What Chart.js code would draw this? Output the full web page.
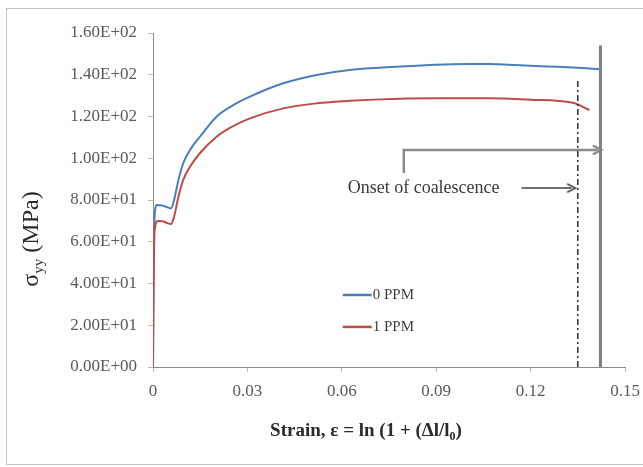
<!DOCTYPE html>
<html><head><meta charset="utf-8">
<script src="https://cdn.jsdelivr.net/npm/chart.js@4"></script>
<style>html,body{margin:0;padding:0;background:#fff}#wrap{width:643px;height:467px}</style>
</head><body><div id="wrap"><canvas id="c" width="643" height="467"></canvas></div>
<script>
// ---- data ----
const seriesNames = ['0 PPM', '1 PPM'];
const strain0 = [0, 0.0002, 0.0005, 0.0012, 0.003, 0.0045, 0.0057, 0.0067, 0.008, 0.0096, 0.012, 0.0149, 0.0202, 0.025, 0.0308, 0.0414, 0.052, 0.0625, 0.0784, 0.09, 0.1, 0.107, 0.115, 0.125, 0.135, 0.1422];
const stress0 = [0, 50, 72, 77.6, 77.4, 76.6, 76, 80, 89, 97.6, 104.5, 110.3, 119.9, 125, 129.5, 135.9, 139.9, 142.3, 143.9, 144.8, 145.1, 145.1, 144.7, 144, 143.3, 142.6];
const strain1 = [0, 0.0002, 0.0005, 0.0015, 0.003, 0.0045, 0.0057, 0.0067, 0.008, 0.0096, 0.012, 0.0149, 0.0202, 0.025, 0.0308, 0.0414, 0.052, 0.0625, 0.0784, 0.09, 0.107, 0.12, 0.1334, 0.1387];
const stress1 = [0, 40, 65, 70, 69.8, 69, 68.5, 72, 81, 89.6, 96.5, 102.4, 110.3, 115, 119.1, 123.9, 126.3, 127.5, 128.5, 128.7, 128.7, 128, 126.6, 123.1];
const xTicks = [0, 0.03, 0.06, 0.09, 0.12, 0.15];
const yTicks = [0, 20, 40, 60, 80, 100, 120, 140, 160];
const dashLineX = [0.1350, 0.1350];
const dashLineY = [0, 137.5];
const solidLineX = [0.1422, 0.1422];
const solidLineY = [0, 154];
const upperArrowX = [0.0797, 0.0797, 0.1413];
const upperArrowY = [92.9, 104, 104];
const lowerArrowX = [0.1171, 0.1330];
const lowerArrowY = [85.7, 85.7];
const annotationText = 'Onset of coalescence';
const annotationAt = [0.086, 85.7];
const xTitleParts = ['Strain, ε = ln (1 + (Δl/l', '0', ')'];
const yTitleParts = ['σ', 'yy', ' (MPa)'];

const pts = (xs, ys) => xs.map((x, i) => ({x: x, y: ys[i]}));

function chevron(color, w) {
  const c = document.createElement('canvas');
  c.width = 12; c.height = 12;
  const g = c.getContext('2d');
  g.strokeStyle = color; g.lineWidth = w; g.lineCap = 'round';
  g.beginPath(); g.moveTo(2, 2); g.lineTo(10, 6); g.lineTo(2, 10); g.stroke();
  return c;
}
const headGrey = chevron('#7f7f7f', 2);
const headDark = chevron('#404040', 1.5);

const SERIF = '"Liberation Serif", "Times New Roman", serif';

function fmtE(v) {
  const s = Number(v).toExponential(2).toUpperCase();
  return s.replace(/E([+-])(\d)$/, 'E$10$2');
}

const decor = {
  id: 'decor',
  beforeDraw(chart) {
    const g = chart.ctx;
    g.save();
    g.strokeStyle = '#c4c4c4'; g.lineWidth = 1;
    g.strokeRect(6.5, 8.5, 650, 456);
    g.restore();
  },
  afterDraw(chart) {
    const g = chart.ctx, xs = chart.scales.x, ys = chart.scales.y;
    g.save();
    // annotation text
    g.fillStyle = '#3a3a3a';
    g.font = '18px ' + SERIF;
    g.textAlign = 'center'; g.textBaseline = 'middle';
    g.fillText(annotationText, xs.getPixelForValue(annotationAt[0]), ys.getPixelForValue(annotationAt[1]));
    // legend
    const lx0 = xs.getPixelForValue(0.0603), lx1 = xs.getPixelForValue(0.0695);
    const ly = [ys.getPixelForValue(34.5), ys.getPixelForValue(19.2)];
    g.font = '15px ' + SERIF; g.textAlign = 'left';
    [0, 1].forEach(i => {
      const ds = chart.data.datasets[i];
      g.strokeStyle = ds.borderColor; g.lineWidth = 2.5;
      g.beginPath(); g.moveTo(lx0, ly[i]); g.lineTo(lx1, ly[i]); g.stroke();
      g.fillStyle = '#404040';
      g.fillText(ds.label, lx1 + 1, ly[i]);
    });
    // y title with subscript
    g.fillStyle = '#2a2a2a';
    g.translate(30, 239); g.rotate(-Math.PI / 2);
    const big = '24px ' + SERIF, small = '15px ' + SERIF;
    g.font = big; const w0 = g.measureText(yTitleParts[0]).width;
    g.font = small; const w1 = g.measureText(yTitleParts[1]).width;
    g.font = big; const w2 = g.measureText(yTitleParts[2]).width;
    let x = -(w0 + w1 + w2) / 2;
    g.textBaseline = 'alphabetic';
    g.font = big; g.fillText(yTitleParts[0], x, 8); x += w0;
    g.font = small; g.fillText(yTitleParts[1], x, 13); x += w1;
    g.font = big; g.fillText(yTitleParts[2], x, 8);
    g.restore();
    // x title with subscript
    g.save();
    g.fillStyle = '#2a2a2a'; g.textBaseline = 'alphabetic';
    const fb = 'bold 19px ' + SERIF, fs = 'bold 12px ' + SERIF;
    g.font = fb; const a = g.measureText(xTitleParts[0]).width;
    g.font = fs; const b = g.measureText(xTitleParts[1]).width;
    g.font = fb; const c = g.measureText(xTitleParts[2]).width;
    let tx = 366 - (a + b + c) / 2;
    g.font = fb; g.fillText(xTitleParts[0], tx, 436); tx += a;
    g.font = fs; g.fillText(xTitleParts[1], tx, 440); tx += b;
    g.font = fb; g.fillText(xTitleParts[2], tx, 436);
    g.restore();
  }
};

const lineDs = (label, data, color, width, extra) => Object.assign({
  label, data, borderColor: color, backgroundColor: color, borderWidth: width,
  pointRadius: 0, fill: false, tension: 0
}, extra || {});

const headRadius = n => (ctx) => ctx.dataIndex === n - 1 ? 6 : 0;

new Chart(document.getElementById('c'), {
  type: 'line',
  data: {
    datasets: [
      lineDs(seriesNames[0], pts(strain0, stress0), '#4a7ebb', 2, {cubicInterpolationMode: 'monotone', order: 2}),
      lineDs(seriesNames[1], pts(strain1, stress1), '#be4b48', 2, {cubicInterpolationMode: 'monotone', order: 1}),
      lineDs('coalescence (1 PPM)', pts(dashLineX, dashLineY), '#303030', 1.5, {borderDash: [6, 3, 2, 3], order: 0}),
      lineDs('coalescence (0 PPM)', pts(solidLineX, solidLineY), '#7f7f7f', 3, {order: 0}),
      lineDs('arrow upper', pts(upperArrowX, upperArrowY), '#8a8a8a', 2.5, {
        order: 0, pointStyle: headGrey, pointRadius: headRadius(upperArrowX.length)
      }),
      lineDs('arrow lower', pts(lowerArrowX, lowerArrowY), '#404040', 1.5, {
        order: 0, pointStyle: headDark, pointRadius: headRadius(lowerArrowX.length)
      })
    ]
  },
  options: {
    responsive: false,
    animation: false,
    devicePixelRatio: 1,
    layout: {padding: {left: 0, right: 18, top: 33, bottom: 0}},
    plugins: {legend: {display: false}, tooltip: {enabled: false}},
    scales: {
      x: {
        type: 'linear', min: 0, max: 0.15,
        afterBuildTicks: s => { s.ticks = xTicks.map(v => ({value: v})); },
        afterFit: s => { s.height = 100; s.paddingLeft = 0; s.paddingRight = 0; },
        ticks: {
          callback: v => String(parseFloat(Number(v).toFixed(2))),
          font: {family: SERIF, size: 17}, color: '#5a5a5a', padding: 9, maxRotation: 0
        },
        grid: {display: true, drawOnChartArea: false, drawTicks: true, tickLength: 5, color: '#bdbdbd'},
        border: {display: true, color: '#8a8a8a', width: 1}
      },
      y: {
        type: 'linear', min: 0, max: 160,
        afterBuildTicks: s => { s.ticks = yTicks.map(v => ({value: v})); },
        afterFit: s => { s.width = 153; s.paddingTop = 0; s.paddingBottom = 0; },
        ticks: {
          callback: v => fmtE(v),
          font: {family: SERIF, size: 17}, color: '#5a5a5a', padding: 11
        },
        grid: {display: true, drawOnChartArea: false, drawTicks: true, tickLength: 5, color: '#bdbdbd'},
        border: {display: true, color: '#8a8a8a', width: 1}
      }
    }
  },
  plugins: [decor]
});
</script>
</body></html>
